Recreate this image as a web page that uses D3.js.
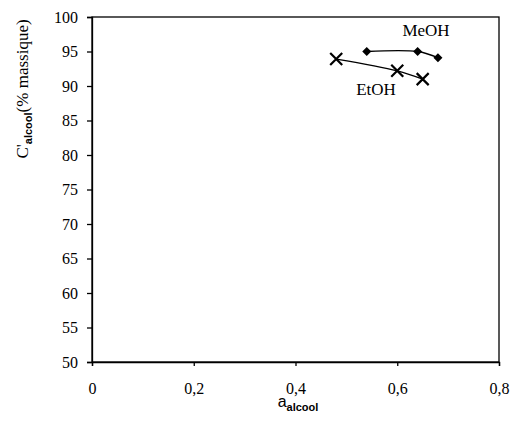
<!DOCTYPE html>
<html><head><meta charset="utf-8">
<script src="https://cdn.jsdelivr.net/npm/d3@7"></script>
<style>body{margin:0;background:#fff}</style>
</head><body>
<svg id="c" width="512" height="426"></svg>
<script>
const meohX = [0.54, 0.64, 0.68];
const meohY = [95, 95, 94.1];
const etohX = [0.48, 0.60, 0.65];
const etohY = [93.9, 92.2, 91.0];
const xTicks = [0, 0.2, 0.4, 0.6, 0.8];
const yTicks = [50, 55, 60, 65, 70, 75, 80, 85, 90, 95, 100];

const SERIF = "'Liberation Serif','Times New Roman',serif";
const SANS = "'Liberation Sans',Arial,sans-serif";
const svg = d3.select("#c");
const L = 92, R = 499, T = 17, B = 362;
const x = d3.scaleLinear().domain([0, 0.8]).range([L, R]);
const y = d3.scaleLinear().domain([50, 100]).range([B, T]);

svg.append("rect").attr("x", L).attr("y", T).attr("width", R - L).attr("height", B - T)
  .attr("fill", "none").attr("stroke", "#000").attr("stroke-width", 1.3);

const fmt = d => d === 0 ? "0" : d3.format(".1f")(d).replace(".", ",");
const xa = svg.append("g").attr("transform", `translate(0,${B})`)
  .call(d3.axisBottom(x).tickValues(xTicks).tickFormat(fmt).tickSize(4).tickPadding(17));
const ya = svg.append("g").attr("transform", `translate(${L},0)`)
  .call(d3.axisLeft(y).tickValues(yTicks).tickSize(5).tickPadding(9));
[xa, ya].forEach(g => {
  g.selectAll("path,line").attr("stroke", "#000").attr("stroke-width", 1.3);
  g.selectAll("text").style("font-size", "16px").style("font-family", SERIF).attr("fill", "#000");
});

const line = d3.line().x(d => x(d[0])).y(d => y(d[1])).curve(d3.curveCatmullRom.alpha(0.5));
const meoh = meohX.map((v, i) => [v, meohY[i]]);
const etoh = etohX.map((v, i) => [v, etohY[i]]);
svg.append("path").attr("d", line(meoh)).attr("fill", "none").attr("stroke", "#000").attr("stroke-width", 1.3);
svg.append("path").attr("d", line(etoh)).attr("fill", "none").attr("stroke", "#000").attr("stroke-width", 1.3);

svg.selectAll(".dm").data(meoh).enter().append("path")
  .attr("transform", d => `translate(${x(d[0])},${y(d[1])})`)
  .attr("d", "M0,-4.5L4.5,0L0,4.5L-4.5,0Z").attr("fill", "#000");
svg.selectAll(".xm").data(etoh).enter().append("path")
  .attr("transform", d => `translate(${x(d[0])},${y(d[1])})`)
  .attr("d", "M-6,-6L6,6M-6,6L6,-6").attr("stroke", "#000").attr("stroke-width", 2.2).attr("fill", "none");

svg.append("text").attr("x", 426).attr("y", 36).attr("text-anchor", "middle")
  .style("font-family", SERIF).style("font-size", "17px").text("MeOH");
svg.append("text").attr("x", 376).attr("y", 95).attr("text-anchor", "middle")
  .style("font-family", SERIF).style("font-size", "17px").text("EtOH");

const xt = svg.append("text").attr("x", 298).attr("y", 407).attr("text-anchor", "middle")
  .style("font-family", SANS).style("font-size", "16px");
xt.append("tspan").text("a");
xt.append("tspan").style("font-size", "11px").style("font-weight", "bold").attr("dy", 4).text("alcool");

const yt = svg.append("text").attr("transform", "translate(28,89) rotate(-90)").attr("text-anchor", "middle")
  .style("font-family", SERIF).style("font-size", "17px");
yt.append("tspan").text("C'");
yt.append("tspan").style("font-family", SANS).style("font-size", "11px").style("font-weight", "bold").attr("dy", 4).text("alcool");
yt.append("tspan").attr("dy", -4).text("(% massique)");
</script>
</body></html>
